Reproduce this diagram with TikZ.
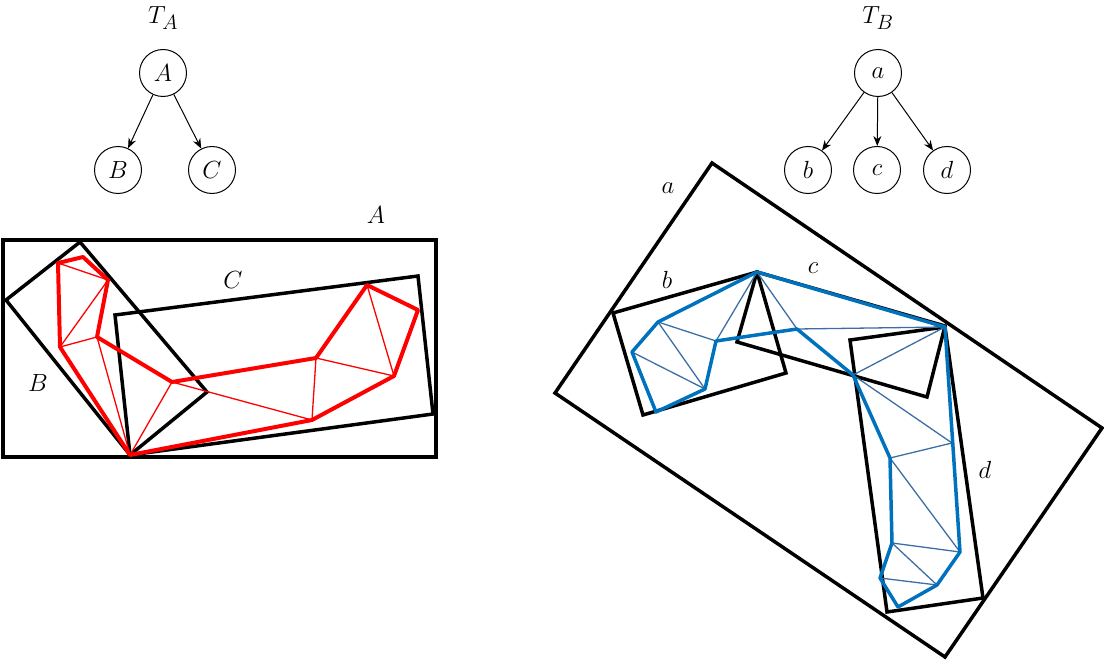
\documentclass[tikz,border=0pt]{standalone}
\usetikzlibrary{arrows.meta}
\definecolor{myblue}{RGB}{0,114,189}
\definecolor{thinblue}{RGB}{60,110,165}
\tikzset{
  box/.style={draw=black,line width=3.5pt,line join=miter},
  redthick/.style={draw=red,line width=4pt,line join=round},
  redthin/.style={draw=red,line width=1.3pt},
  bluethick/.style={draw=myblue,line width=3.5pt,line join=round},
  bluethin/.style={draw=thinblue,line width=1.3pt},
  tnode/.style={circle,draw,line width=1pt,minimum size=47bp,inner sep=0pt,font=\fontsize{30}{36}\selectfont},
  lbl/.style={font=\fontsize{30}{36}\selectfont,inner sep=0pt},
  tarrow/.style={-{Stealth[length=10bp,width=8bp]},line width=1pt}
}
\begin{document}
\begin{tikzpicture}[x=1bp,y=-1bp]
\useasboundingbox (0,0) rectangle (1104,661);
% trees
\node[lbl] (TA) at (163,18) {$T_A$};
\node[tnode] (nA) at (163,73) {$A$};
\node[tnode] (nB) at (118,170) {$B$};
\node[tnode] (nC) at (212,170) {$C$};
\draw[tarrow] (nA) -- (nB);
\draw[tarrow] (nA) -- (nC);
\node[lbl] (TB) at (878,18) {$T_B$};
\node[tnode] (na) at (878,73) {$a$};
\node[tnode] (nb) at (808,170) {$b$};
\node[tnode] (nc) at (877,170) {$c$};
\node[tnode] (nd) at (947,170) {$d$};
\draw[tarrow] (na) -- (nb);
\draw[tarrow] (na) -- (nc);
\draw[tarrow] (na) -- (nd);
% left boxes
\draw[box] (3,240) rectangle (436,457);
\draw[box] (6,300) -- (80,242) -- (207,392) -- (130,455) -- cycle;
\draw[box] (115,315) -- (418,276) -- (433,414) -- (130,455) -- cycle;
\node[lbl] (lA) at (376,215) {$A$};
\node[lbl] (lC) at (233,280) {$C$};
\node[lbl] (lB) at (38,383) {$B$};
% red mesh
\foreach \n/\p in {1/{58,263},2/{83,257},3/{108,280},4/{97,337},5/{60,347},6/{130,455},7/{172,382},8/{316,358},9/{312,420},10/{367,285},11/{418,310},12/{394,376}}
  \coordinate (p\n) at (\p);
\foreach \a/\b in {1/3,5/3,5/4,4/6,6/7,7/9,8/9,8/12,10/12}
  \draw[redthin] (p\a) -- (p\b);
\draw[redthick] (p1)--(p2)--(p3)--(p4)--(p7)--(p8)--(p10)--(p11)--(p12)--(p9)--(p6)--(p5)--cycle;
% right boxes
\draw[box] (712,163) -- (1102,428) -- (945,657) -- (555,393) -- cycle;
\draw[box] (613,313) -- (757,272) -- (786,373) -- (643,415) -- cycle;
\draw[box] (757,272) -- (945,326) -- (927,397) -- (737,342) -- cycle;
\draw[box] (850,340) -- (945,327) -- (983,598) -- (887,612) -- cycle;
\node[lbl] (la) at (668,188) {$a$};
\node[lbl] (lb) at (667,280) {$b$};
\node[lbl] (lc) at (813,268) {$c$};
\node[lbl] (ld) at (985,470) {$d$};
% blue mesh
\foreach \n/\p in {1/{757,272},2/{658,322},3/{632,352},4/{656,412},5/{705,389},6/{716,341},7/{797,329},8/{945,327},9/{853,375},10/{890,458},11/{952,443},12/{892,543},13/{960,552},14/{880,578},15/{937,585},16/{898,607}}
  \coordinate (q\n) at (\p);
\foreach \a/\b in {2/6,2/5,3/5,6/1,1/7,7/8,9/8,9/11,10/11,10/13,12/13,12/15,14/15}
  \draw[bluethin] (q\a) -- (q\b);
\draw[bluethick] (q1)--(q8)--(q13)--(q15)--(q16)--(q14)--(q12)--(q10)--(q9)--(q7)--(q6)--(q5)--(q4)--(q3)--(q2)--cycle;
\end{tikzpicture}
\end{document}
